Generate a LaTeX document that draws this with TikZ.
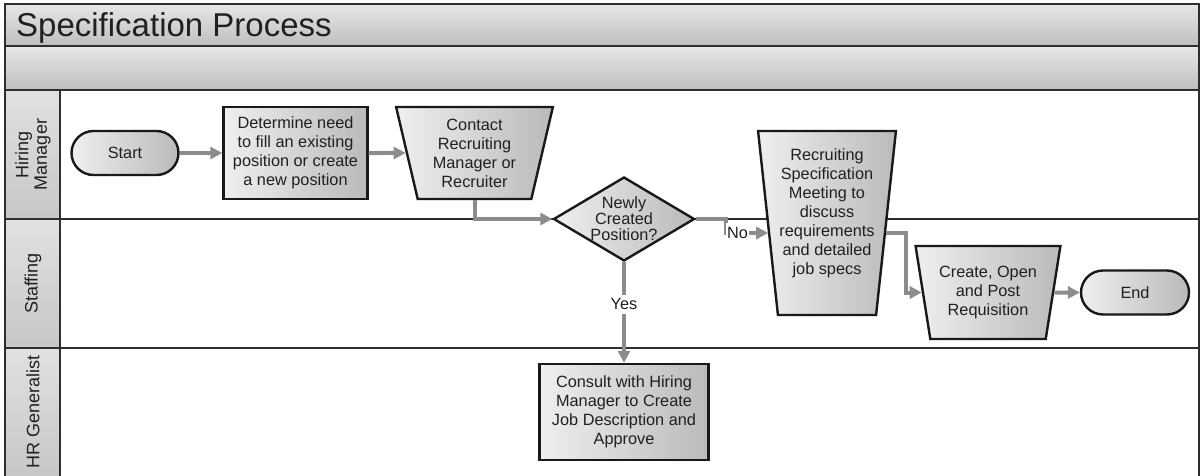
\documentclass[tikz,border=0pt]{standalone}
\usepackage{fontspec}
\setmainfont{Liberation Sans}
\usetikzlibrary{shapes.geometric,shapes.misc,arrows.meta,calc}
\definecolor{barTop}{HTML}{E6E7E8}
\definecolor{barBot}{HTML}{BCBEC0}
\definecolor{cellTop}{HTML}{E0E1E2}
\definecolor{cellBot}{HTML}{C6C7C9}
\definecolor{shapeL}{HTML}{EFEFEF}
\definecolor{shapeR}{HTML}{BABABA}
\definecolor{flowgray}{HTML}{8C8C8C}
\definecolor{frameline}{HTML}{2E2E2E}
\definecolor{inkc}{HTML}{231F20}
\begin{document}
\begin{tikzpicture}[x=1pt,y=-1pt,
  boxfont/.style={font=\fontsize{16.3}{19}\selectfont},
  shapebase/.style={draw=black!90, line width=2.4pt, left color=shapeL, right color=shapeR, text=inkc, align=center, inner sep=0pt, boxfont},
  procbox/.style={shapebase, rectangle},
  pill/.style={shapebase, rounded rectangle, minimum width=107pt, minimum height=44pt},
  manop/.style={shapebase, trapezium, shape border rotate=180, trapezium stretches=true},
  decision/.style={shapebase, diamond, aspect=1.68, inner sep=-2pt, font=\fontsize{16.3}{16}\selectfont},
  flow/.style={draw=flowgray, line width=4pt, -{Triangle[length=12pt,width=12pt]}},
  flowlbl/.style={fill=white, inner xsep=1pt, inner ysep=4pt, text=inkc, boxfont},
  lanelbl/.style={rotate=90, align=center, text=inkc, font=\fontsize{18}{18.5}\selectfont},
  bar/.style={top color=barTop, bottom color=barBot},
  cell/.style={top color=cellTop, bottom color=cellBot},
  sep/.style={draw=frameline, line width=1.5pt},
]
\useasboundingbox (0,0) rectangle (1201,476);
% background bars and lane label cells
\shade[bar] (5,4) rectangle (1199,46);
\shade[bar] (5,46) rectangle (1199,90);
\shade[cell] (5,90) rectangle (60,219);
\shade[cell] (5,219) rectangle (60,348);
\shade[cell] (5,348) rectangle (60,476);
\draw[sep] (5,46) -- (1199,46);
\draw[sep] (5,90) -- (1199,90);
\draw[sep] (5,219) -- (1199,219);
\draw[sep] (5,348) -- (1199,348);
\draw[sep] (60,90) -- (60,476);
\draw[draw=frameline, line width=2pt] (5,476) -- (5,4) -- (1199,4) -- (1199,476);
% titles
\node[anchor=base west, font=\fontsize{33}{36}\selectfont, text=inkc, inner sep=0pt] (title) at (16,37) {Specification Process};
\node[lanelbl] (lhm) at (33,154.5) {Hiring\\Manager};
\node[lanelbl] (lst) at (33,283.5) {Staffing};
\node[lanelbl] (lhr) at (33,412) {HR Generalist};
% shapes
\node[pill] (start) at (125,153) {Start};
\node[procbox, minimum width=144pt, minimum height=92pt] (det) at (295.5,153) {Determine need\\to fill an existing\\position or create\\a new position};
\node[manop, trapezium angle=77, minimum width=157pt, minimum height=92pt] (contact) at (474.5,153) {Contact\\Recruiting\\Manager or\\Recruiter};
\node[decision, minimum width=141pt, minimum height=84pt] (dia) at (624,219) {Newly\\Created\\Position?};
\node[manop, trapezium angle=82.6, minimum width=138pt, minimum height=184pt] (rec) at (827,223) {Recruiting\\Specification\\Meeting to\\discuss\\requirements\\and detailed\\job specs\\[3.4pt]\mbox{}};
\node[manop, trapezium angle=76.7, minimum width=145pt, minimum height=93pt] (create) at (988,292.5) {Create, Open\\and Post\\Requisition};
\node[pill, minimum width=108pt] (end) at (1135,292.5) {End};
\node[procbox, minimum width=169pt, minimum height=96pt] (consult) at (624,412) {Consult with Hiring\\Manager to Create\\Job Description and\\Approve};
% connectors
\coordinate (nobend) at ($(dia.east)+(30,0)$);
\coordinate (recin) at ($(rec.west)+(1.4,10)$);
\coordinate (recout) at ($(rec.east)+(-1.4,10)$);
\coordinate (rcbend) at ($(recout)+(20,0)$);
\draw[flow] (start.east) -- (det.west);
\draw[flow] (det.east) -- (contact.west);
\draw[flow] (contact.south) |- (dia.west);
\draw[flow] (dia.east) -- (nobend) |- node[flowlbl, pos=0.64] {No} (recin);
\draw[flow] (recout) -- (rcbend) |- (create.west);
\draw[flow] (create.east) -- (end.west);
\draw[flow] (dia.south) -- node[flowlbl, pos=0.42] {Yes} (consult.north);
\end{tikzpicture}
\end{document}
